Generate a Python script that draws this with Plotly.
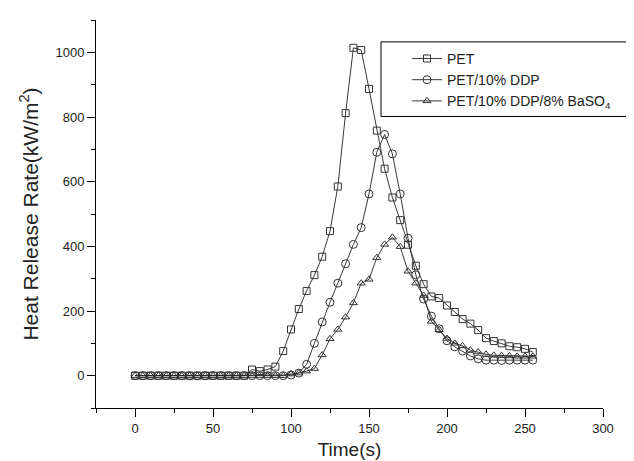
import plotly.graph_objects as go

time_s = list(range(0, 260, 5))

pet = [0]*15 + [19, 14, 19, 28, 76, 143, 206, 262, 311, 368, 447, 585, 812, 1014, 1007,
                887, 758, 640, 551, 481, 405, 340, 283, 245, 240, 217, 197, 175, 161, 141,
                116, 107, 100, 91, 88, 83, 73]
pet_ddp = [0]*20 + [2, 8, 35, 100, 166, 227, 286, 346, 406, 458, 562, 691, 746, 686, 562,
                    425, 312, 237, 184, 145, 108, 89, 76, 61, 52, 48, 48, 47, 48, 48, 48, 48]
pet_ddp_baso4 = [0]*20 + [5, 8, 14, 22, 64, 114, 143, 181, 225, 286, 298, 365, 406, 428, 399,
                          323, 286, 248, 168, 142, 115, 100, 92, 79, 73, 66, 63, 62, 61, 60, 60, 60]

names = ["PET", "PET/10% DDP", "PET/10% DDP/8% BaSO<sub>4</sub>"]
symbols = ["square-open", "circle-open", "triangle-up-open"]
sizes = [7, 8, 7]
series = [pet, pet_ddp, pet_ddp_baso4]

FONT = "Liberation Sans, Arial, sans-serif"

fig = go.Figure()
for name, sym, sz, ys in zip(names, symbols, sizes, series):
    fig.add_trace(go.Scatter(
        x=time_s, y=ys, name=name, mode="lines+markers",
        line=dict(color="#222222", width=0.9),
        marker=dict(symbol=sym, size=sz, color="#333333", line=dict(width=1, color="#333333")),
    ))

axis_common = dict(
    showline=True, linecolor="black", linewidth=1, mirror=False,
    ticks="outside", ticklen=8, tickwidth=1, tickcolor="black",
    showgrid=False, zeroline=False,
    tickfont=dict(family=FONT, size=13, color="#222"),
)

fig.update_xaxes(range=[-25, 300], dtick=50, tick0=0,
                 minor=dict(dtick=25, tick0=0, ticks="outside", ticklen=4, tickcolor="black"),
                 title=dict(text="Time(s)", font=dict(family=FONT, size=19, color="#222"), standoff=8),
                 **axis_common)
fig.update_yaxes(range=[-100, 1100], dtick=200, tick0=0,
                 minor=dict(dtick=100, tick0=0, ticks="outside", ticklen=4, tickcolor="black"),
                 title=dict(text="Heat Release Rate(kW/m<sup>2</sup>)", font=dict(family=FONT, size=21, color="#222"), standoff=11),
                 **axis_common)

fig.add_shape(type="rect", xref="paper", yref="paper",
              x0=(373-88)/507, x1=(627-88)/507, y0=(402-109)/390, y1=(402-34)/390,
              line=dict(color="black", width=1), fillcolor="rgba(0,0,0,0)")

fig.update_layout(
    width=634, height=461,
    margin=dict(l=88, r=39, t=12, b=59),
    paper_bgcolor="white", plot_bgcolor="white",
    font=dict(family=FONT, color="#222"),
    showlegend=True,
    legend=dict(x=(399-88)/507, y=(402-35)/390, xanchor="left", yanchor="top",
                bgcolor="rgba(0,0,0,0)", borderwidth=0,
                font=dict(family=FONT, size=14, color="#222"), tracegroupgap=0),
)

fig.write_html("out.html")
